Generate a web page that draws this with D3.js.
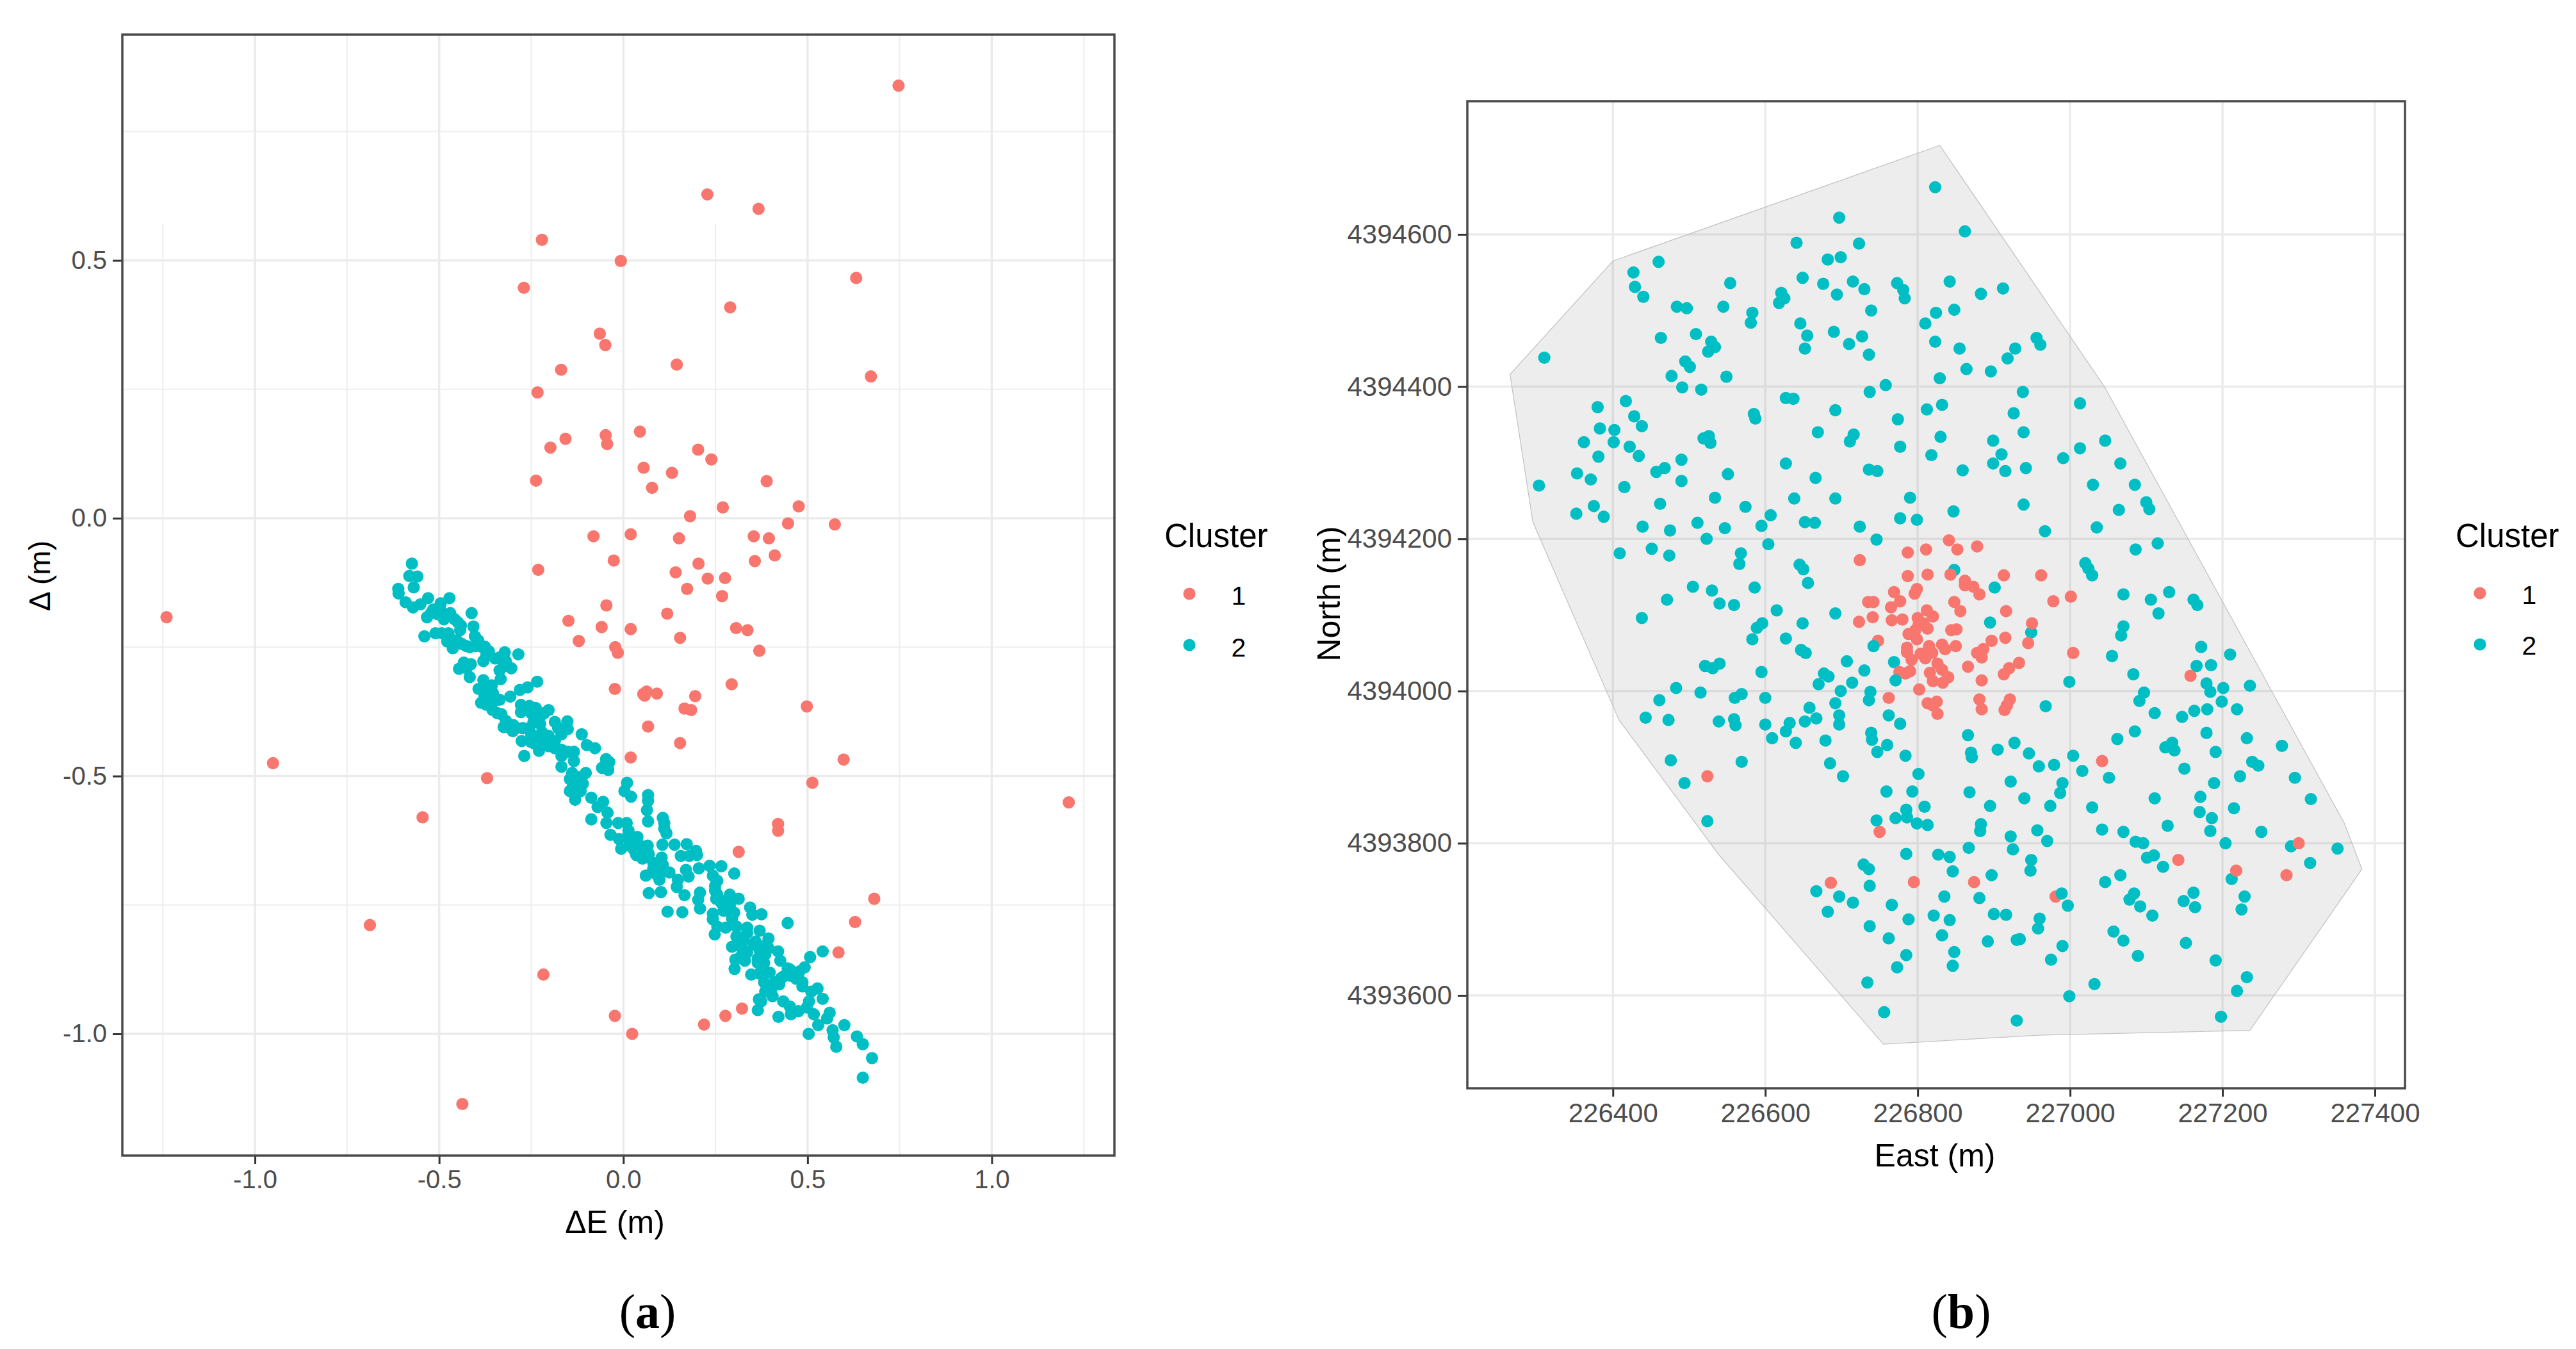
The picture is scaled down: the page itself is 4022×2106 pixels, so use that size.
<!DOCTYPE html>
<html>
<head>
<meta charset="utf-8">
<script src="https://cdnjs.cloudflare.com/ajax/libs/d3/7.8.5/d3.min.js"></script>
<style>
body { margin: 0; background: #fff; }
text { font-family: "Liberation Sans", Arial, sans-serif; }
</style>
</head>
<body>
<div id="chart"></div>
<script>
var clusters = ['1', '2']
var clusterColors = ['#F8766D', '#00BFC4']

// panel (a): dE, dN in metres
var residualMajorX = [-1, -0.5, 0, 0.5, 1]
var residualMinorX = [-1.25, -0.75, -0.25, 0.25, 0.75, 1.25]
var residualMajorY = [-1, -0.5, 0, 0.5]
var residualMinorY = [-0.75, -0.25, 0.25, 0.75]

var residualsRed = [[.747,.839],[.228,.628],[-.221,.540],[-.007,.499],[.367,.600],[-.270,.447],[.290,.409],[.632,.466],[-.064,.358],[-.049,.336],[.145,.298],[-.169,.288],[.672,.275],[-.233,.244],
[-.048,.161],[-.044,.144],[.045,.168],[-.157,.154],[-.198,.137],[.203,.133],[.239,.114],[.055,.098],[.132,.088],[.078,.059],[-.237,.073],[.270,.021],[.389,.072],[.476,.023],[.181,.004],[.447,-.010],[.574,-.012],
[.151,-.039],[.354,-.035],[.395,-.039],[.411,-.072],[.357,-.083],[.204,-.088],[.142,-.105],[.229,-.117],[.276,-.116],[.173,-.137],[.268,-.151],[.119,-.185],[.154,-.232],[.306,-.213],[.337,-.217],[.369,-.257],
[.294,-.322],[.058,-.344],[.091,-.340],[.195,-.345],[.166,-.369],[.184,-.372],[.498,-.365],[.067,-.404],[.154,-.436],[.598,-.468],[.513,-.513],[1.209,-.551],[.420,-.593],[.420,-.606],[.313,-.647],[.681,-.738],[.629,-.783],[.584,-.842],[.322,-.951],[.277,-.965],[.219,-.982],
[-.081,-.035],[.020,-.031],[-.231,-.100],[-.026,-.082],[-.046,-.169],[-.149,-.199],[-.059,-.211],[.020,-.215],[-.121,-.238],[-.022,-.250],[-.015,-.261],[-.023,-.331],[.054,-.341],[.063,-.336],[.020,-.464],[-.370,-.504],[-.951,-.475],[-1.240,-.192],[-.545,-.580],[-.688,-.789],[-.217,-.885],[-.023,-.965],[.024,-1.0],[-.437,-1.136]]

var residualsTeal = [[-.574,-.088],[-.581,-.112],[-.559,-.113],[-.569,-.134],[-.611,-.137],[-.610,-.146],[-.591,-.163],[-.571,-.173],[-.551,-.167],[-.530,-.155],[-.496,-.165],[-.472,-.155],[-.516,-.177],[-.533,-.192],[-.504,-.186],[-.470,-.184],[-.487,-.196],[-.449,-.202],[-.510,-.223],[-.540,-.229],[-.443,-.217],[-.475,-.223],[-.478,-.239],[-.463,-.252],[-.452,-.237],
[-.412,-.184],[-.407,-.210],[-.403,-.229],[-.426,-.248],[-.400,-.248],[-.376,-.249],[-.372,-.266],[-.380,-.277],[-.348,-.272],[-.322,-.260],[-.285,-.264],[-.319,-.277],[-.304,-.291],[-.336,-.295],[-.333,-.312],[-.433,-.280],[-.414,-.283],[-.446,-.292],[-.426,-.291],[-.417,-.308],[-.380,-.314],[-.393,-.331],[-.357,-.324],[-.354,-.339],[-.377,-.345],[-.386,-.358],[-.362,-.355],[-.336,-.352],[-.307,-.346],[-.281,-.333],[-.260,-.328],[-.234,-.317],[-.278,-.362],[-.278,-.376],[-.255,-.364],[-.238,-.368],[-.203,-.372],[-.223,-.382],[-.355,-.372],[-.331,-.380],[-.319,-.393],[-.325,-.405],[-.299,-.401],[-.300,-.413],[-.273,-.407],[-.244,-.395],[-.226,-.399],[-.186,-.395],[-.152,-.394],[-.151,-.409],[-.177,-.407],[-.168,-.419],[-.276,-.432],[-.250,-.419],[-.250,-.434],[-.226,-.428],[-.203,-.422],[-.186,-.432],[-.229,-.451],[-.203,-.442],[-.186,-.446],[-.269,-.461],[-.168,-.461],[-.151,-.453],[-.134,-.453],[-.134,-.471],[-.168,-.482],[-.113,-.419],[-.099,-.440],[-.077,-.446],[-.047,-.467],[-.038,-.473],[-.058,-.484],[-.041,-.488],[-.102,-.494],[-.145,-.506],[-.116,-.502],[-.110,-.515],[-.137,-.519],[-.145,-.529],[-.116,-.529],[-.131,-.546],
[-.522,-.184],[-.498,-.175],[-.481,-.188],[-.458,-.196],[-.441,-.208],[-.493,-.223],[-.470,-.233],[-.458,-.246],[-.438,-.244],[-.417,-.250],[-.394,-.237],[-.383,-.250],[-.365,-.258],[-.336,-.270],[-.325,-.287],[-.365,-.333],[-.348,-.353],[-.371,-.362],[-.342,-.378],[-.307,-.407],[-.290,-.407],[-.255,-.407],[-.232,-.391],[-.215,-.378],[-.250,-.378],[-.221,-.415],[-.209,-.436],[-.244,-.436],[-.168,-.449],[-.139,-.494],[-.128,-.515],[-.128,-.531],[-.047,-.477],
[.010,-.513],[.003,-.529],[.021,-.540],[.067,-.537],[.067,-.548],[.064,-.566],[.067,-.588],[.107,-.581],[.111,-.591],[.111,-.602],[.117,-.611],[.106,-.633],[.139,-.633],[.172,-.632],[.197,-.645],[.200,-.653],[.156,-.655],[.179,-.655],[-.087,-.542],[-.055,-.550],[-.070,-.560],[-.043,-.571],[-.087,-.584],[-.046,-.591],[-.014,-.591],[.009,-.591],[.014,-.606],[-.035,-.614],[-.012,-.622],[.038,-.618],[.011,-.618],[-.006,-.641],[.017,-.635],[.035,-.653],[.066,-.635],[.046,-.635],[.052,-.660],[.069,-.651],[.104,-.658],[.081,-.668],[.107,-.672],[.061,-.693],[.087,-.689],[.107,-.684],[.125,-.687],[.098,-.701],[.069,-.727],[.102,-.725],[.148,-.701],[.145,-.715],[.166,-.731],[.170,-.682],[.177,-.695],[.205,-.679],[.234,-.674],[.266,-.675],[.301,-.689],[.243,-.693],[.255,-.703],[.208,-.726],[.203,-.740],[.208,-.757],[.249,-.722],[.252,-.738],[.289,-.730],[.313,-.738],[.278,-.742],[.344,-.755],[.350,-.769],[.375,-.768],[.120,-.763],[.160,-.764],[.301,-.765],[.243,-.778],[.272,-.761],[.255,-.792],[.248,-.807],[.278,-.794],[.295,-.776],[.307,-.792],[.336,-.794],[.370,-.800],[.446,-.785],[.307,-.811],[.327,-.817],[.394,-.815],[.388,-.827],[.295,-.831],[.319,-.827],[.353,-.827],[.336,-.842],[.319,-.850],[.304,-.856],[.302,-.874],[.330,-.858],[.365,-.854],[.385,-.846],[.420,-.840],[.426,-.858],[.382,-.862],[.379,-.875],[.347,-.885],[.370,-.883],[.397,-.881],[.382,-.900],[.446,-.873],[.434,-.889],[.452,-.887],[.492,-.871],[.478,-.879],[.507,-.851],[.541,-.840],[.469,-.893],[.423,-.904],[.402,-.912],[.486,-.908],[.527,-.912],[.541,-.932],[.405,-.927],[.368,-.933],[.385,-.918],[.434,-.937],[.504,-.937],
[.017,-.626],[.029,-.643],[.052,-.647],[.081,-.680],[.249,-.713],[.255,-.730],[.266,-.746],[.289,-.751],[.243,-.767],[.313,-.813],[.336,-.804],[.359,-.821],[.324,-.838],[.370,-.838],[.394,-.834],[.365,-.862],[.324,-.854],[.428,-.892],[.411,-.900],[.452,-.875],[.475,-.891],[.486,-.900],
[.510,-.918],[.365,-.954],[.374,-.937],[.452,-.947],[.421,-.967],[.455,-.962],[.475,-.956],[.498,-.949],[.517,-.962],[.560,-.959],[.553,-.970],[.529,-.983],[.503,-1.0],[.600,-.983],[.568,-.993],[.571,-1.007],[.578,-1.025],[.634,-1.005],[.650,-1.020],[.675,-1.047],[.650,-1.085]]

// panel (b): east, north in metres
var eastTicks = [226400, 226600, 226800, 227000, 227200, 227400]
var northTicks = [4393600, 4393800, 4394000, 4394200, 4394400, 4394600]

var surveyHull = [[226829,4394717],[227045,4394400],[227360,4393826],[227383,4393766],[227236,4393554],[226963,4393548],[226755,4393536],[226539,4393785],[226408,4393962],[226295,4394222],[226265,4394416],[226400,4394565]]

var stationsTeal = [[226823,4394662],[226697,4394622],[226862,4394604],[226641,4394589],[226723,4394588],[226682,4394567],[226699,4394570],[226460,4394564],[226427,4394550],[226429,4394531],[226440,4394518],[226554,4394536],[226484,4394505],[226497,4394503],[226545,4394505],[226583,4394497],[226581,4394484],[226621,4394523],[226625,4394516],[226618,4394510],[226649,4394543],[226676,4394535],[226715,4394538],[226694,4394521],[226730,4394528],[226773,4394536],[226781,4394527],[226783,4394516],[226739,4394500],[226842,4394538],[226883,4394522],[226912,4394529],[226824,4394497],[226848,4394501],[226810,4394483],[226646,4394483],[226655,4394467],[226652,4394450],[226690,4394472],[226727,4394466],[226710,4394456],[226736,4394442],[226823,4394459],[226855,4394450],[226928,4394450],[226918,4394437],[226864,4394423],[226896,4394420],[226829,4394411],[226463,4394464],[226509,4394469],[226529,4394459],[226534,4394452],[226525,4394446],[226310,4394438],[226495,4394433],[226501,4394426],[226477,4394414],[226549,4394413],[226491,4394399],[226516,4394396],[226737,4394393],[226758,4394402],[226627,4394385],[226637,4394384],[226417,4394381],[226380,4394373],[226428,4394361],[226438,4394348],[226383,4394345],[226402,4394343],[226401,4394327],[226362,4394327],[226585,4394364],[226587,4394358],[226692,4394369],[226812,4394370],[226832,4394376],[226774,4394357],[226926,4394365],[226669,4394340],[226716,4394337],[226711,4394328],[226830,4394334],[226777,4394321],[226899,4394329],[226519,4394332],[226526,4394335],[226528,4394326],[226422,4394321],[226434,4394309],[226381,4394308],[226490,4394304],[226468,4394293],[226457,4394288],[226627,4394299],[226818,4394310],[226910,4394311],[226899,4394299],[226915,4394289],[226859,4394290],[226736,4394291],[226747,4394289],[226666,4394280],[226551,4394285],[226490,4394276],[226353,4394286],[226371,4394278],[226303,4394270],[226415,4394268],[226534,4394254],[226638,4394253],[226692,4394253],[226790,4394254],[226462,4394246],[226574,4394242],[226375,4394243],[226352,4394233],[226388,4394229],[226607,4394231],[226847,4394236],[226777,4394227],[226799,4394225],[226652,4394222],[226665,4394221],[226511,4394221],[226439,4394216],[226475,4394211],[226547,4394214],[226595,4394217],[226724,4394216],
[226523,4394200],[226746,4394199],[226604,4394193],[226409,4394181],[226451,4394187],[226474,4394178],[226568,4394181],[226566,4394167],[226645,4394166],[226650,4394160],[226656,4394142],[226505,4394137],[226530,4394132],[226586,4394136],[226540,4394115],[226559,4394113],[226471,4394120],[226438,4394096],[226615,4394106],[226692,4394102],[226596,4394089],[226589,4394083],[226649,4394089],[226583,4394068],[226627,4394069],[226647,4394054],[226653,4394050],[226707,4394039],[226769,4394038],[226730,4394027],[226521,4394033],[226531,4394030],[226540,4394036],[226595,4394025],[226677,4394023],[226683,4394019],[226670,4394009],[226714,4394011],[226699,4394000],[226738,4393999],[226483,4394004],[226515,4393998],[226569,4393996],[226560,4393991],[226600,4393991],[226461,4393988],[226736,4393988],[226692,4393984],[226658,4393978],[226443,4393965],[226473,4393962],[226539,4393960],[226559,4393963],[226561,4393955],[226600,4393956],[226632,4393958],[226627,4393947],[226652,4393960],[226667,4393964],[226697,4393968],[226697,4393956],[226762,4393968],[226777,4393957],[226609,4393938],[226640,4393932],[226679,4393935],[226739,4393945],[226740,4393936],[226760,4393929],[226747,4393920],[226784,4393915],[226866,4393942],[226927,4393932],[226905,4393923],[226870,4393919],[226871,4393913],[226476,4393909],[226569,4393907],[226685,4393905],[226702,4393888],[226801,4393891],[226494,4393879],[226759,4393868],[226793,4393868],[226868,4393867],[226922,4393881],[226895,4393849],[226785,4393844],[226809,4393848],[226746,4393830],[226771,4393833],[226786,4393834],[226799,4393826],[226813,4393824],[226524,4393829],[226883,4393825],[226882,4393816],[226922,4393809],[226867,4393794],[226925,4393792],[226785,4393786],[226827,4393785],[226842,4393782],[226729,4393772],[226736,4393766],[226846,4393763],[226897,4393758],[226737,4393744],[226667,4393737],[226697,4393730],[226715,4393722],[226835,4393730],[226881,4393728],[226766,4393719],[226682,4393710],[226821,4393705],[226900,4393707],[226916,4393706],[226788,4393700],[226842,4393699],[226737,4393691],[226832,4393679],[226892,4393671],[226762,4393675],[226930,4393673],[226785,4393653],[226848,4393657],
[226895,4394090],[226901,4394136],[226949,4394077],[226848,4394159],
[226956,4394464],[226961,4394455],[226938,4394393],[227013,4394378],[226939,4394340],[227046,4394329],[227013,4394319],[226991,4394306],[227066,4394299],[226942,4394293],[227030,4394271],[227085,4394271],[227100,4394248],[227104,4394239],[227064,4394238],[226939,4394245],[226967,4394210],[227035,4394215],
[227115,4394194],[227086,4394186],[227020,4394168],[227024,4394161],[227029,4394152],[227070,4394127],[227130,4394130],[227106,4394120],[227162,4394120],[227167,4394113],[227116,4394102],[227070,4394085],[227067,4394073],[227172,4394058],[227210,4394048],[227055,4394046],[227166,4394033],[227185,4394034],[227083,4394022],[226999,4394012],[227179,4394010],[227184,4393999],[227201,4394004],[227236,4394007],[227097,4393998],[227091,4393987],[226968,4393980],[227199,4393986],[227180,4393976],[227163,4393974],[227219,4393976],[227147,4393966],[227111,4393971],[227085,4393947],[227179,4393945],[227062,4393937],[227232,4393938],[227278,4393928],[227125,4393926],[227134,4393932],[227137,4393922],[227191,4393920],[227004,4393915],[226946,4393918],[226979,4393903],[226959,4393901],[227016,4393895],[227150,4393898],[227239,4393907],[227247,4393902],[227223,4393888],[227051,4393886],[227295,4393886],[227189,4393879],[226990,4393879],[226987,4393866],[226940,4393859],[227171,4393861],[227111,4393859],[227316,4393858],[226974,4393849],[227029,4393847],[227215,4393846],[227170,4393841],[227186,4393833],[227128,4393823],[226957,4393817],[227042,4393818],[227070,4393815],[227184,4393816],[227251,4393815],[227086,4393802],[227096,4393800],[226970,4393803],[227204,4393800],[227290,4393796],[227351,4393793],[227110,4393784],[227101,4393781],[227315,4393774],[226949,4393778],[226948,4393764],[227122,4393769],[227066,4393758],[227046,4393749],[227212,4393753],[227162,4393735],[227229,4393730],[227084,4393734],[227078,4393726],[227149,4393724],[226997,4393718],[227092,4393717],[227164,4393716],[227225,4393713],[226960,4393701],[226958,4393688],[227108,4393705],[227057,4393684],[227070,4393672],[226934,4393674],[226990,4393665],[227152,4393669],[227089,4393652],[227191,4393646],[226975,4393647],
[226773,4393637],[226846,4393639],[227232,4393624],[226734,4393617],[227032,4393615],[227219,4393606],[226999,4393599],[226756,4393578],[226930,4393567],[227198,4393572]]

var stationsRed = [[226724,4394172],[226787,4394182],[226811,4394186],[226841,4394198],[226852,4394186],[226878,4394190],[226787,4394151],[226813,4394153],[226843,4394153],[226913,4394152],[226962,4394152],[226862,4394145],[226862,4394139],[226873,4394137],[226881,4394127],[226799,4394134],[226796,4394128],[226769,4394130],[226777,4394118],[226765,4394110],[226735,4394117],[226742,4394117],[226848,4394117],[226856,4394105],[226916,4394105],[226978,4394118],[227001,4394124],[226812,4394106],[226820,4394098],[226741,4394097],[226723,4394091],[226766,4394093],[226780,4394094],[226800,4394096],[226808,4394089],[226801,4394086],[226813,4394082],[226797,4394080],[226788,4394075],[226799,4394068],[226844,4394080],[226851,4394081],[226950,4394089],[226748,4394066],[226786,4394057],[226786,4394051],[226815,4394059],[226832,4394061],[226836,4394055],[226850,4394059],[226897,4394066],[226915,4394070],[226945,4394063],[226886,4394055],[226878,4394050],[226884,4394044],[227004,4394050],[226804,4394049],[226810,4394043],[226819,4394050],[226813,4394052],[226792,4394041],[226933,4394037],[226920,4394030],[226913,4394022],[226866,4394032],[226826,4394036],[226832,4394028],[226816,4394024],[226776,4394025],[226784,4394023],[226790,4394026],[226840,4394018],[226833,4394011],[226820,4394013],[226802,4394002],[226884,4394014],[226762,4393991],[226881,4393989],[226884,4393976],[226921,4393989],[226917,4393981],[226914,4393975],[226825,4393986],[226813,4393984],[226820,4393981],[226826,4393970],
[227158,4394020],[227042,4393908],[227300,4393800],[227142,4393778],[227218,4393764],[227284,4393758],[226981,4393730],[226874,4393749],[226524,4393888],[226750,4393815],[226686,4393748],[226795,4393749]]

// these few teal ones sit above the red dots in the picture
var stationsTealTop = [[226742,4394059],[226771,4394014],[226989,4393734]]

var width = 4022, height = 2106
var pointR = 9.6
var svg = d3.select("#chart").append("svg").attr("width", width).attr("height", height)
svg.append("rect").attr("width", width).attr("height", height).attr("fill", "#fff")

function drawFrame(x, y, major_x, major_y, minor_x, minor_y, box){
    var g = svg.append("g")
    g.selectAll(".minor-x").data(minor_x).enter().append("line")
        .attr("x1", d => x(d)).attr("x2", d => x(d))
        .attr("y1", d => (d === -1.25 || d === 0.25) ? y(0.571) : box.top).attr("y2", box.bottom)
        .attr("stroke", "#EEEEEE").attr("stroke-width", 2)
    g.selectAll(".minor-y").data(minor_y).enter().append("line")
        .attr("x1", box.left).attr("x2", box.right)
        .attr("y1", d => y(d)).attr("y2", d => y(d))
        .attr("stroke", "#EEEEEE").attr("stroke-width", 2)
    g.selectAll(".major-x").data(major_x).enter().append("line")
        .attr("x1", d => x(d)).attr("x2", d => x(d))
        .attr("y1", box.top).attr("y2", box.bottom)
        .attr("stroke", "#EBEBEB").attr("stroke-width", 3.5)
    g.selectAll(".major-y").data(major_y).enter().append("line")
        .attr("x1", box.left).attr("x2", box.right)
        .attr("y1", d => y(d)).attr("y2", d => y(d))
        .attr("stroke", "#EBEBEB").attr("stroke-width", 3.5)
}

function drawAxes(x, y, major_x, major_y, fmt_x, fmt_y, box, font){
    var ax = svg.append("g").attr("transform", "translate(0," + box.bottom + ")")
        .call(d3.axisBottom(x).tickValues(major_x).tickFormat(fmt_x).tickSize(13).tickPadding(10))
    var ay = svg.append("g").attr("transform", "translate(" + box.left + ",0)")
        .call(d3.axisLeft(y).tickValues(major_y).tickFormat(fmt_y).tickSize(15).tickPadding(9))
    for (var a of [ax, ay]){
        a.select(".domain").remove()
        a.selectAll("line").attr("stroke", "#333333").attr("stroke-width", 3)
        a.selectAll("text").attr("fill", "#4D4D4D").style("font-size", font + "px").style("font-family", '"Liberation Sans"')
    }
    svg.append("rect").attr("x", box.left).attr("y", box.top)
        .attr("width", box.right - box.left).attr("height", box.bottom - box.top)
        .attr("fill", "none").attr("stroke", "#4A4A4A").attr("stroke-width", 3.5)
}

function drawPoints(x, y, rows, color){
    svg.append("g").selectAll("circle").data(rows).enter().append("circle")
        .attr("cx", d => x(d[0])).attr("cy", d => y(d[1]))
        .attr("r", pointR).attr("fill", color)
}

function drawLegend(title_x, title_y, dot_x, dot_ys, label_x, label_ys){
    svg.append("text").attr("x", title_x).attr("y", title_y).text("Cluster")
        .style("font-size", "51px").attr("fill", "#000")
    clusters.forEach(function(c, i){
        svg.append("circle").attr("cx", dot_x).attr("cy", dot_ys[i]).attr("r", pointR).attr("fill", clusterColors[i])
        svg.append("text").attr("x", label_x).attr("y", label_ys[i]).attr("text-anchor", "middle")
            .text(c).style("font-size", "41px").attr("fill", "#000")
    })
}

function axisTitle(x, y, txt, rotate, font){
    var t = svg.append("text").attr("text-anchor", "middle").text(txt)
        .style("font-size", font + "px").attr("fill", "#000")
    if (rotate){
        t.attr("transform", "translate(" + x + "," + y + ") rotate(-90)")
    }
    else{
        t.attr("x", x).attr("y", y)
    }
}

function caption(x, letter){
    var t = svg.append("text").attr("x", x).attr("y", 2073).attr("text-anchor", "middle")
        .style("font-family", '"Liberation Serif"').style("font-size", "76px").attr("fill", "#000")
    t.append("tspan").text("(")
    t.append("tspan").text(letter).style("font-weight", "bold")
    t.append("tspan").text(")")
}

// ---- panel (a)
var boxA = {left: 191, right: 1740, top: 54, bottom: 1804}
var xA = d3.scaleLinear().domain([-1.360, 1.333]).range([boxA.left, boxA.right])
var yA = d3.scaleLinear().domain([-1.236, 0.938]).range([boxA.bottom, boxA.top])
drawFrame(xA, yA, residualMajorX, residualMajorY, residualMinorX, residualMinorY, boxA)
drawPoints(xA, yA, residualsRed, clusterColors[0])
drawPoints(xA, yA, residualsTeal, clusterColors[1])
drawAxes(xA, yA, residualMajorX, residualMajorY, d3.format(".1f"), d3.format(".1f"), boxA, 40)
d3.selectAll("text").each(function(){
    // R writes a plain hyphen, not the d3 minus
    this.textContent = this.textContent.replace("\u2212", "-")
})
axisTitle(960, 1925, "\u0394E (m)", false, 50)
axisTitle(78, 899, "\u0394 (m)", true, 46)
drawLegend(1818, 854, 1857, [927, 1007], 1934, [944, 1025])
caption(1011, "a")

// ---- panel (b)
var boxB = {left: 2291, right: 3755, top: 158, bottom: 1699}
var xB = d3.scaleLinear().domain([226209, 227439.5]).range([boxB.left, boxB.right])
var yB = d3.scaleLinear().domain([4393478, 4394775]).range([boxB.bottom, boxB.top])
drawFrame(xB, yB, eastTicks, northTicks, [], [], boxB)
svg.append("path")
    .attr("d", d3.line().x(d => xB(d[0])).y(d => yB(d[1])).curve(d3.curveLinearClosed)(surveyHull))
    .attr("fill", "#7F7F7F").attr("fill-opacity", 0.14)
    .attr("stroke", "#C4C4C4").attr("stroke-width", 1.3)
drawPoints(xB, yB, stationsTeal, clusterColors[1])
drawPoints(xB, yB, stationsRed, clusterColors[0])
drawPoints(xB, yB, stationsTealTop, clusterColors[1])
drawAxes(xB, yB, eastTicks, northTicks, d3.format("d"), d3.format("d"), boxB, 42)
axisTitle(3021, 1821, "East (m)", false, 50)
axisTitle(2092, 927, "North (m)", true, 50)
drawLegend(3834, 854, 3872, [926, 1006], 3949, [943, 1022])
caption(3062, "b")
</script>
</body>
</html>
